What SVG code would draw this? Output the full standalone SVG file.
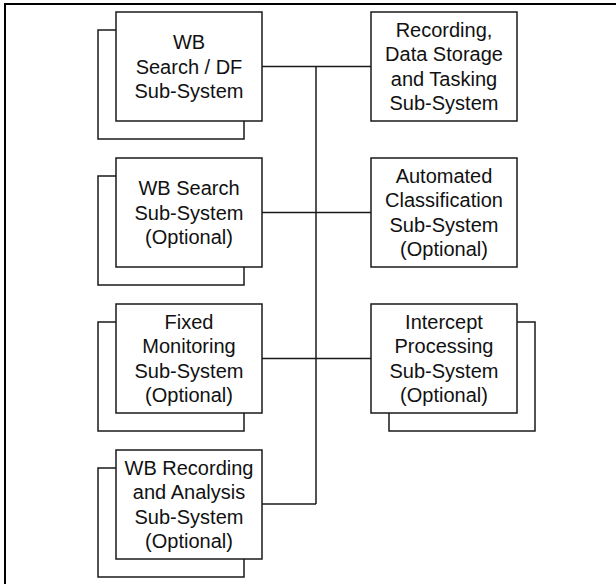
<svg xmlns="http://www.w3.org/2000/svg" width="616" height="584" viewBox="0 0 616 584">
<style>
.box{fill:#fff;stroke:#1a1a1a;stroke-width:1.5}
.ln{fill:none;stroke:#1a1a1a;stroke-width:1.5}
.t{font-family:"Liberation Sans",Arial,sans-serif;font-size:20px;fill:#111;text-anchor:middle}
</style>
<rect width="616" height="584" fill="#fff"/>
<path d="M5,584 V4 H616" fill="none" stroke="#000" stroke-width="2"/>
<g id="connectors">
<path class="ln" d="M316,66.5 V504"/>
<path class="ln" d="M262,66.5 H371"/>
<path class="ln" d="M262,212.5 H371"/>
<path class="ln" d="M262,358.5 H371"/>
<path class="ln" d="M262,504 H316"/>
</g>
<g id="wb-search-df">
<rect class="box" x="98" y="30" width="146" height="109"/>
<rect class="box" x="116" y="12" width="146" height="109"/>
<text class="t" x="189" y="49"><tspan x="189">WB</tspan><tspan x="189" dy="24.5">Search / DF</tspan><tspan x="189" dy="24.5">Sub-System</tspan></text>
</g>
<g id="wb-search">
<rect class="box" x="98" y="176" width="146" height="109"/>
<rect class="box" x="116" y="158" width="146" height="109"/>
<text class="t" x="189" y="195"><tspan x="189">WB Search</tspan><tspan x="189" dy="24.5">Sub-System</tspan><tspan x="189" dy="24.5">(Optional)</tspan></text>
</g>
<g id="fixed-monitoring">
<rect class="box" x="98" y="322" width="146" height="109"/>
<rect class="box" x="116" y="304" width="146" height="109"/>
<text class="t" x="189" y="328.5"><tspan x="189">Fixed</tspan><tspan x="189" dy="24.5">Monitoring</tspan><tspan x="189" dy="24.5">Sub-System</tspan><tspan x="189" dy="24.5">(Optional)</tspan></text>
</g>
<g id="wb-recording">
<rect class="box" x="98" y="468" width="146" height="109"/>
<rect class="box" x="116" y="450" width="146" height="109"/>
<text class="t" x="189" y="474.5"><tspan x="189">WB Recording</tspan><tspan x="189" dy="24.5">and Analysis</tspan><tspan x="189" dy="24.5">Sub-System</tspan><tspan x="189" dy="24.5">(Optional)</tspan></text>
</g>
<g id="recording-storage">
<rect class="box" x="371" y="12" width="146" height="109"/>
<text class="t" x="444" y="36.5"><tspan x="444">Recording,</tspan><tspan x="444" dy="24.5">Data Storage</tspan><tspan x="444" dy="24.5">and Tasking</tspan><tspan x="444" dy="24.5">Sub-System</tspan></text>
</g>
<g id="automated-classification">
<rect class="box" x="371" y="158" width="146" height="109"/>
<text class="t" x="444" y="182.5"><tspan x="444">Automated</tspan><tspan x="444" dy="24.5">Classification</tspan><tspan x="444" dy="24.5">Sub-System</tspan><tspan x="444" dy="24.5">(Optional)</tspan></text>
</g>
<g id="intercept-processing">
<rect class="box" x="389" y="322" width="146" height="109"/>
<rect class="box" x="371" y="304" width="146" height="109"/>
<text class="t" x="444" y="328.5"><tspan x="444">Intercept</tspan><tspan x="444" dy="24.5">Processing</tspan><tspan x="444" dy="24.5">Sub-System</tspan><tspan x="444" dy="24.5">(Optional)</tspan></text>
</g>
</svg>
